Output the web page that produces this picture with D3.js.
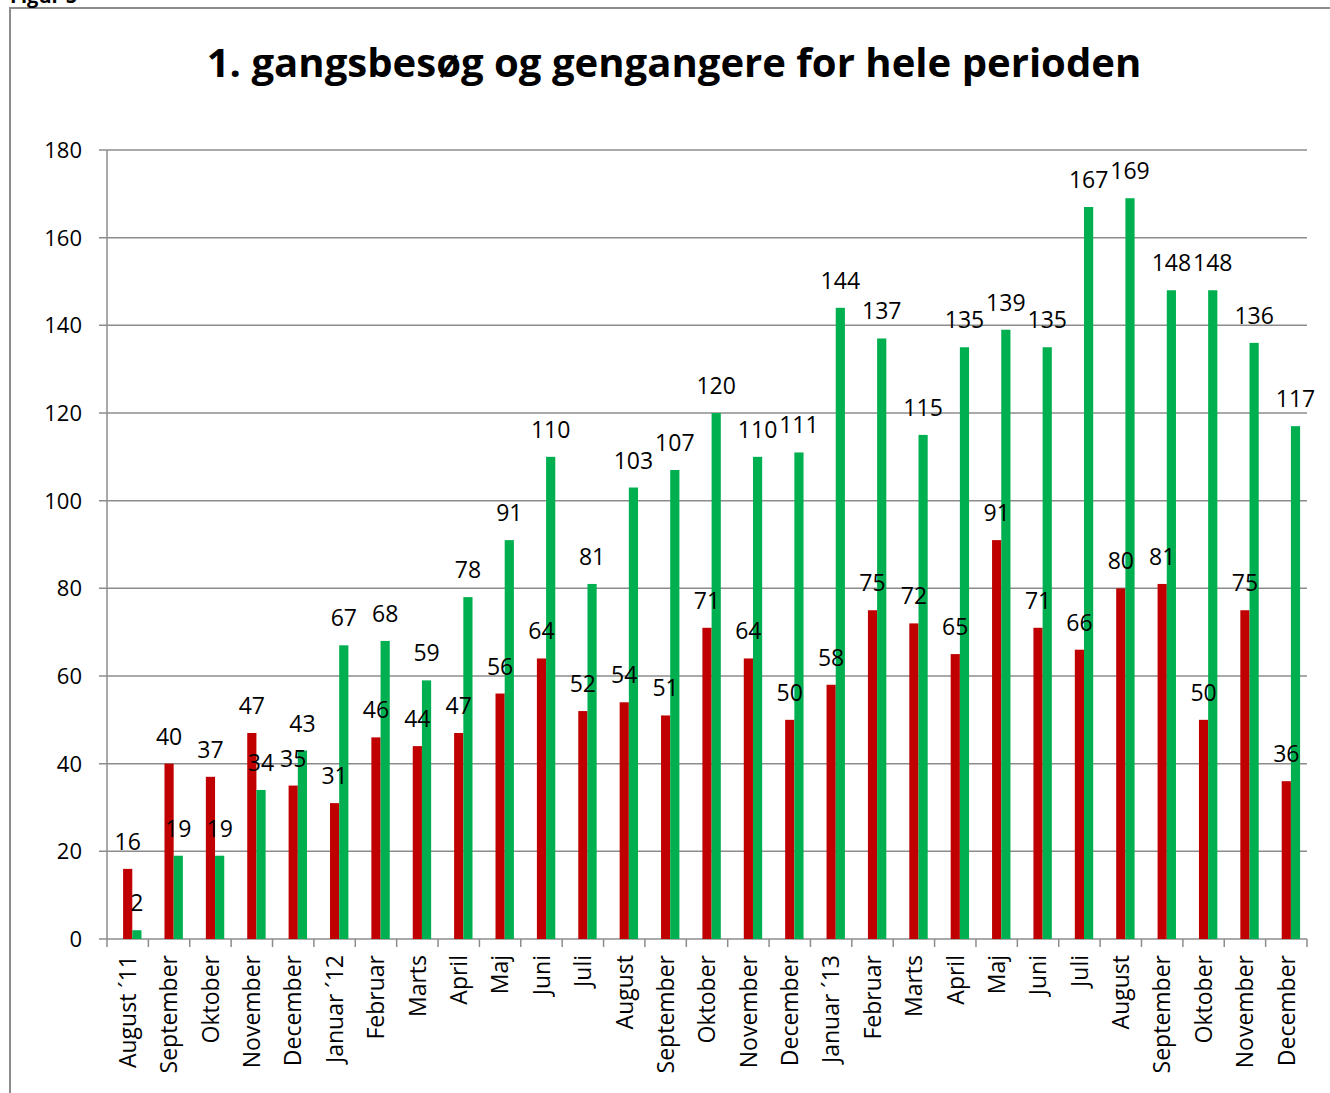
<!DOCTYPE html>
<head>
<meta charset="utf-8" />
<script src="https://d3js.org/d3.v7.min.js"></script>
<style>
    body { margin: 0; background: #fff; font-family: "Open Sans", sans-serif; }
</style>
</head>
<body>
<div id="chart"></div>
<script>
    // måneder august 2011 - december 2013
    var months = ["August \u00b411", "September", "Oktober", "November", "December", "Januar \u00b412",
        "Februar", "Marts", "April", "Maj", "Juni", "Juli", "August", "September", "Oktober",
        "November", "December", "Januar \u00b413", "Februar", "Marts", "April", "Maj", "Juni",
        "Juli", "August", "September", "Oktober", "November", "December"];
    var forstegang = [16, 40, 37, 47, 35, 31, 46, 44, 47, 56, 64, 52, 54, 51, 71, 64, 50, 58, 75, 72, 65, 91, 71, 66, 80, 81, 50, 75, 36];
    var gengangere = [2, 19, 19, 34, 43, 67, 68, 59, 78, 91, 110, 81, 103, 107, 120, 110, 111, 144, 137, 115, 135, 139, 135, 167, 169, 148, 148, 136, 117];
    var yTicks = [0, 20, 40, 60, 80, 100, 120, 140, 160, 180];
    var series = [
        { key: "tom", values: [], color: "none" },
        { key: "forste", values: forstegang, color: "#C00000" },
        { key: "gen", values: gengangere, color: "#00B050" }
    ];

    var width = 1330, height = 1093;
    var m = { left: 107, right: 1307, top: 150, bottom: 939 };

    var svg = d3.select("#chart").append("svg")
        .attr("width", width).attr("height", height);

    // ramme
    svg.append("path")
        .attr("d", "M10," + height + "V8H" + width)
        .attr("fill", "none").attr("stroke", "#8c8c8c").attr("stroke-width", 2);

    svg.append("text")
        .attr("x", 10).attr("y", 3)
        .style("font-weight", "bold").style("font-size", "20px")
        .text("Figur 5");

    var title = svg.append("text")
        .attr("x", 674).attr("y", 77)
        .attr("text-anchor", "middle")
        .style("font-weight", "bold").style("font-size", "40px")
        .text("1. gangsbesøg og gengangere for hele perioden");
    var tw = title.node().getComputedTextLength();
    title.style("font-size", (40 * 935 / tw) + "px");

    var x = d3.scaleBand().domain(d3.range(months.length)).range([m.left, m.right]);
    var x1 = d3.scaleBand().domain(series.map(function(s) { return s.key; }))
        .range([0, x.bandwidth()]).paddingOuter(0.75);
    var y = d3.scaleLinear().domain([0, 180]).range([m.bottom, m.top]);

    // gitterlinjer
    svg.append("g").selectAll("line").data(yTicks).join("line")
        .attr("x1", m.left - 8).attr("x2", m.right)
        .attr("y1", function(d) { return y(d); }).attr("y2", function(d) { return y(d); })
        .attr("stroke", "#8c8c8c").attr("stroke-width", 1.5);

    svg.append("g").selectAll("text").data(yTicks).join("text")
        .attr("x", 82).attr("y", function(d) { return y(d); })
        .attr("dy", "0.36em")
        .attr("text-anchor", "end")
        .style("font-size", "22px")
        .text(function(d) { return d; });

    // akser
    svg.append("line").attr("x1", m.left).attr("x2", m.left).attr("y1", m.top).attr("y2", m.bottom)
        .attr("stroke", "#8c8c8c").attr("stroke-width", 1.5);
    svg.append("g").selectAll("line").data(d3.range(months.length + 1)).join("line")
        .attr("x1", function(i) { return m.left + i * x.step(); })
        .attr("x2", function(i) { return m.left + i * x.step(); })
        .attr("y1", m.bottom).attr("y2", m.bottom + 8)
        .attr("stroke", "#8c8c8c").attr("stroke-width", 1.5);

    // søjler
    var bars = [];
    series.forEach(function(s) {
        s.values.forEach(function(v, i) { bars.push({ i: i, key: s.key, v: v, color: s.color }); });
    });

    svg.append("g").selectAll("rect").data(bars).join("rect")
        .attr("x", function(d) { return x(d.i) + x1(d.key); })
        .attr("width", x1.bandwidth())
        .attr("y", function(d) { return y(d.v); })
        .attr("height", function(d) { return y(0) - y(d.v); })
        .attr("fill", function(d) { return d.color; });

    svg.append("g").selectAll("text").data(bars).join("text")
        .attr("x", function(d) { return x(d.i) + x1(d.key) + x1.bandwidth() / 2; })
        .attr("y", function(d) { return y(d.v) - 19; })
        .attr("text-anchor", "middle")
        .style("font-size", "23px")
        .text(function(d) { return d.v; });

    // månedsnavne
    svg.append("g").selectAll("text").data(months).join("text")
        .attr("transform", function(d, i) {
            return "translate(" + (x(i) + x.bandwidth() / 2) + "," + (m.bottom + 16) + ") rotate(-90)";
        })
        .attr("dy", "0.36em")
        .attr("text-anchor", "end")
        .style("font-size", "23px")
        .text(function(d) { return d; });
</script>
</body>
